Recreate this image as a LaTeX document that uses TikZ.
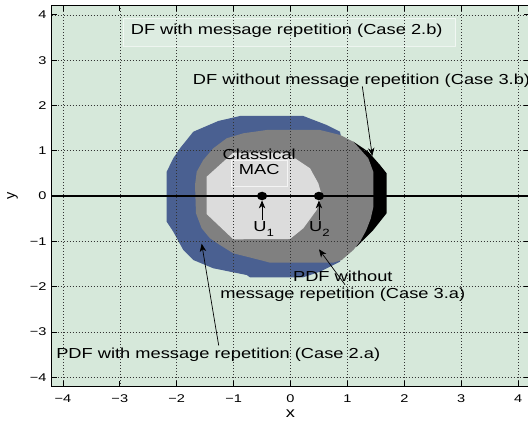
\documentclass[tikz,border=0pt]{standalone}
\usepackage{fontspec}
\setmainfont{Liberation Sans}
\usetikzlibrary{arrows.meta}
\definecolor{bggreen}{RGB}{214,232,218}
\definecolor{boxgreen}{RGB}{221,236,225}
\definecolor{regblue}{RGB}{74,96,145}
\definecolor{reggray}{RGB}{128,128,128}
\definecolor{reglight}{RGB}{220,220,220}
\begin{document}
\begin{tikzpicture}[x=56.9pt,y=45.3pt,
  lbl/.style={font=\fontsize{14.5}{16.3}\selectfont, xscale=1.26, inner sep=0pt, align=center},
  ticklbl/.style={font=\fontsize{11.2}{12}\selectfont, xscale=1.3, inner sep=0pt},
  gridline/.style={black!80, line width=0.45pt, dash pattern=on 0.7pt off 2.3pt},
  pointer/.style={-{Stealth[length=8pt,width=6.5pt,inset=2.5pt]}, line width=0.7pt},
  dot/.style={circle, fill=black, inner sep=0pt, minimum size=8.5pt, xscale=1.2},
  tickmark/.style={line width=0.6pt},
  ]
\useasboundingbox (-290.5pt,-227pt) rectangle (237.5pt,196pt);
\fill[bggreen] (-4.2,-4.2) rectangle (4.2,4.2);
% regions
\fill[black] (1.104,1.199) -- (1.367,0.978) -- (1.573,0.684) -- (1.69,0.50) -- (1.69,-0.38)
  -- (1.455,-0.75) -- (1.163,-1.119) -- (1.0,-1.0) -- (1.0,1.0) -- cycle;
\fill[regblue] (-0.888,1.766) -- (0.225,1.766) -- (0.636,1.567) -- (0.870,1.419) -- (1.1,0)
  -- (0.870,-1.450) -- (0.518,-1.671) -- (0.225,-1.795) -- (-0.712,-1.795) -- (-0.770,-1.744)
  -- (-1.357,-1.596) -- (-1.708,-1.413) -- (-1.884,-1.192) -- (-2.060,-0.788) -- (-2.176,-0.567)
  -- (-2.176,0.536) -- (-2.060,0.832) -- (-1.942,1.053) -- (-1.708,1.419) -- (-1.269,1.656) -- cycle;
\fill[reggray] (-0.418,1.457) -- (0.518,1.457) -- (0.870,1.347) -- (1.104,1.199) -- (1.367,0.832)
  -- (1.455,0.536) -- (1.455,-0.25) -- (1.41,-0.5) -- (1.33,-0.76) -- (1.221,-1.009) -- (1.104,-1.192)
  -- (0.90,-1.413) -- (0.752,-1.472) -- (-0.360,-1.472) -- (-0.536,-1.413) -- (-1.005,-1.265)
  -- (-1.239,-1.082) -- (-1.415,-0.934) -- (-1.561,-0.713) -- (-1.661,-0.382) -- (-1.678,0.243)
  -- (-1.648,0.536) -- (-1.533,0.795) -- (-1.357,1.053) -- (-1.121,1.274) -- (-0.830,1.384) -- cycle;
\fill[reglight] (-1.005,0.956) -- (-0.067,0.956) -- (0.343,0.611) -- (0.489,0.280) -- (0.548,0.022)
  -- (0.460,-0.309) -- (0.225,-0.713) -- (-0.009,-0.949) -- (-1.005,-0.956) -- (-1.473,-0.40)
  -- (-1.473,0.426) -- cycle;
% text boxes
\draw[white, draw opacity=0.6, fill=boxgreen, line width=0.5pt] (-2.938,3.311) rectangle (2.903,3.923);
\draw[white, draw opacity=0.7, line width=0.5pt] (-1.033,0.205) rectangle (-0.056,0.795);
% grid
\foreach \i in {-4,...,4} {
  \draw[gridline] (\i,-4.2) -- (\i,4.2);
  \draw[gridline] (-4.2,\i) -- (4.2,\i);
}
% horizontal line y=0
\draw[line width=1.8pt] (-4.2,0) -- (4.2,0);
% ticks
\foreach \i in {-4,...,4} {
  \draw[tickmark] (\i,-4.2) -- ++(0,5pt);
  \draw[tickmark] (\i,4.2) -- ++(0,-5pt);
  \draw[tickmark] (-4.2,\i) -- ++(5pt,0);
  \draw[tickmark] (4.2,\i) -- ++(-5pt,0);
}
\draw[line width=0.9pt] (-4.2,-4.2) rectangle (4.2,4.2);
% tick labels
\foreach \i/\t in {-4/−4,-3/−3,-2/−2,-1/−1,0/0,1/1,2/2,3/3,4/4} {
  \node[ticklbl, anchor=base] (xt\i) at (\i,-4.563) {\t};
  \node[ticklbl, anchor=base east] (yt\i) at (-4.285,\i-0.088) {\t};
}
% axis labels
\node[lbl, anchor=base] (xlab) at (0,-4.879) {x};
\node[font=\fontsize{14.5}{16}\selectfont, rotate=90, inner sep=0pt] (ylab) at (-4.885,0) {y};
% users
\node[dot] (m1) at (-0.5,0) {};
\node[dot] (m2) at (0.5,0) {};
\coordinate (u1t) at (-0.5,-0.53);
\coordinate (u2t) at (0.5,-0.53);
\draw[pointer] (u1t) -- (m1);
\draw[pointer] (u2t) -- (m2);
\node[lbl, anchor=base] (u1) at (-0.47,-0.79) {U\raisebox{-4.5pt}{\fontsize{10.5}{11}\selectfont 1}};
\node[lbl, anchor=base] (u2) at (0.51,-0.79) {U\raisebox{-4.5pt}{\fontsize{10.5}{11}\selectfont 2}};
% labels
\node[lbl, anchor=base] (c2b) at (-0.067,3.561) {DF with message repetition (Case 2.b)};
\node[lbl, anchor=base west] (c3b) at (-1.719,2.472) {DF without message repetition (Case 3.b)};
\node[lbl, anchor=base west] (c2a) at (-4.121,-3.592) {PDF with message repetition (Case 2.a)};
\node[lbl, anchor=base] (c3a) at (0.92,-2.252) {PDF without\\message repetition (Case 3.a)};
\node[lbl, anchor=base, font=\fontsize{14.5}{15}\selectfont] (cmac) at (-0.55,0.464) {Classical\\MAC};
% pointers
\coordinate (p3bt) at (1.262,2.42);
\coordinate (p3bh) at (1.438,0.885);
\coordinate (p2at) at (-1.262,-3.30);
\coordinate (p2ah) at (-1.561,-1.053);
\coordinate (p3at) at (0.958,-1.958);
\coordinate (p3ah) at (0.501,-1.177);
\draw[pointer] (p3bt) -- (p3bh);
\draw[pointer] (p2at) -- (p2ah);
\draw[pointer] (p3at) -- (p3ah);
\end{tikzpicture}
\end{document}
